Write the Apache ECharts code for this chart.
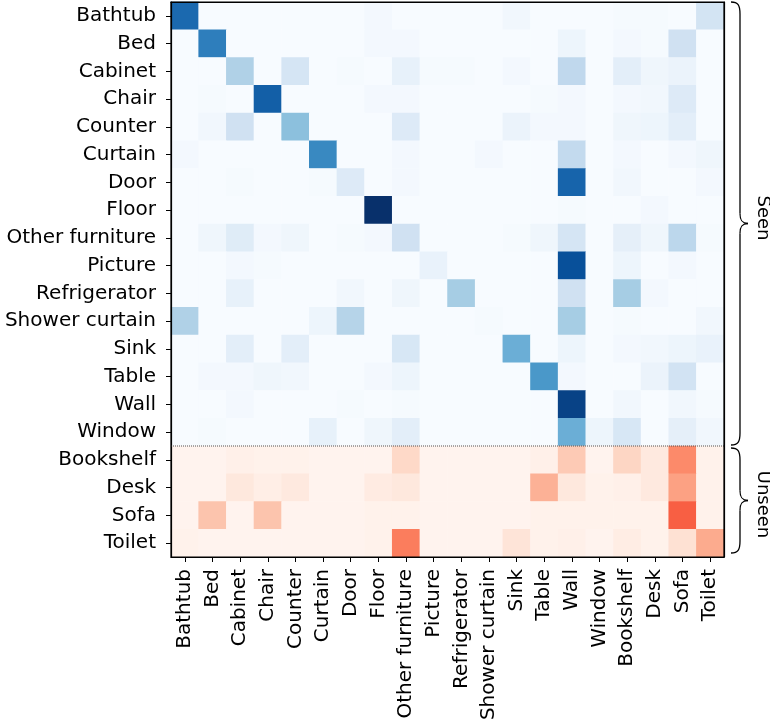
<!DOCTYPE html>
<html>
<head>
<meta charset="utf-8">
<script src="https://cdn.jsdelivr.net/npm/echarts@6/dist/echarts.min.js"></script>
<style>
  html, body { margin: 0; padding: 0; background: #fff; }
  #main { width: 770px; height: 726px; }
</style>
</head>
<body>
<div id="main"></div>
<script>
// class names, used for both axes
const classes = ['Bathtub', 'Bed', 'Cabinet', 'Chair', 'Counter', 'Curtain', 'Door', 'Floor',
  'Other furniture', 'Picture', 'Refrigerator', 'Shower curtain', 'Sink', 'Table', 'Wall',
  'Window', 'Bookshelf', 'Desk', 'Sofa', 'Toilet']

const seenRows = classes.slice(0, 16)
const unseenRows = classes.slice(16)

// row-normalised confusion, seen classes (Blues)
const seenMatrix = [
  [0.78, 0, 0, 0, 0, 0, 0, 0.02, 0, 0, 0, 0, 0.03, 0, 0, 0, 0.01, 0.01, 0, 0.18],
  [0, 0.70, 0, 0, 0, 0, 0, 0.02, 0.02, 0, 0, 0, 0, 0, 0.05, 0, 0.02, 0.01, 0.20, 0],
  [0, 0, 0.32, 0, 0.17, 0, 0.01, 0, 0.08, 0.01, 0.01, 0, 0.02, 0, 0.27, 0, 0.10, 0.04, 0.06, 0],
  [0, 0.01, 0, 0.82, 0, 0, 0, 0.02, 0.02, 0, 0, 0, 0, 0.01, 0.02, 0, 0.02, 0.03, 0.13, 0],
  [0, 0.03, 0.20, 0, 0.42, 0, 0, 0, 0.13, 0, 0, 0, 0.06, 0.02, 0.02, 0, 0.04, 0.05, 0.10, 0],
  [0.02, 0, 0, 0, 0, 0.66, 0, 0, 0.02, 0, 0, 0.02, 0, 0, 0.26, 0, 0.02, 0, 0.02, 0.04],
  [0, 0, 0.01, 0, 0, 0.01, 0.13, 0, 0.02, 0, 0, 0, 0, 0, 0.80, 0, 0.03, 0, 0, 0.02],
  [0, 0, 0, 0, 0, 0, 0, 1.00, 0, 0, 0, 0, 0, 0, 0.01, 0, 0, 0.02, 0, 0],
  [0, 0.04, 0.12, 0.02, 0.04, 0, 0.01, 0.02, 0.20, 0, 0, 0, 0.01, 0.04, 0.17, 0, 0.09, 0.04, 0.28, 0.01],
  [0, 0, 0.02, 0.01, 0, 0, 0, 0, 0, 0.07, 0, 0, 0, 0, 0.88, 0, 0.05, 0, 0.02, 0],
  [0, 0, 0.08, 0, 0, 0, 0.03, 0, 0.04, 0, 0.35, 0, 0, 0, 0.20, 0, 0.35, 0.02, 0, 0],
  [0.32, 0, 0, 0, 0, 0.05, 0.30, 0, 0, 0, 0, 0.01, 0, 0, 0.35, 0, 0.01, 0, 0, 0.03],
  [0, 0, 0.10, 0, 0.10, 0, 0, 0, 0.16, 0, 0, 0, 0.50, 0, 0.05, 0, 0.02, 0.03, 0.05, 0.07],
  [0, 0.02, 0.02, 0.04, 0.03, 0, 0, 0.02, 0.05, 0, 0, 0, 0, 0.60, 0.02, 0, 0, 0.06, 0.19, 0],
  [0, 0, 0.02, 0, 0, 0, 0.01, 0, 0.01, 0, 0, 0, 0, 0, 0.93, 0, 0.03, 0, 0.03, 0.01],
  [0, 0.01, 0, 0, 0, 0.08, 0, 0.04, 0.10, 0, 0, 0, 0, 0, 0.50, 0.05, 0.16, 0, 0.09, 0.03]
]

// unseen classes (Reds)
const unseenMatrix = [
  [0.01, 0.01, 0.03, 0.02, 0.02, 0.01, 0.01, 0.01, 0.15, 0.01, 0.01, 0.01, 0.01, 0.03, 0.20, 0.01, 0.16, 0.07, 0.40, 0.02],
  [0.01, 0.01, 0.08, 0.04, 0.07, 0.01, 0.01, 0.06, 0.08, 0.01, 0.01, 0.01, 0.01, 0.28, 0.08, 0.02, 0.03, 0.07, 0.33, 0.02],
  [0.01, 0.22, 0.01, 0.22, 0.01, 0.01, 0.01, 0.02, 0.02, 0.01, 0.01, 0.01, 0.01, 0.02, 0.02, 0.02, 0.02, 0.02, 0.53, 0.02],
  [0.02, 0.01, 0.01, 0.01, 0.01, 0.01, 0.01, 0.02, 0.44, 0.01, 0.01, 0.01, 0.10, 0.02, 0.03, 0.01, 0.05, 0.02, 0.12, 0.30]
]

const blues = ['#f7fbff', '#deebf7', '#c6dbef', '#9ecae1', '#6baed6', '#4292c6', '#2171b5', '#08519c', '#08306b']
const reds = ['#fff5f0', '#fee0d2', '#fcbba1', '#fc9272', '#fb6a4a', '#ef3b2c', '#cb181d', '#a50f15', '#67000d']

function toCells(matrix, rowNames) {
  const out = []
  matrix.forEach((row, r) => {
    row.forEach((v, c) => out.push([classes[c], rowNames[r], v]))
  })
  return out
}

const font = 'DejaVu Sans'
const chart = echarts.init(document.getElementById('main'))

const axisBase = {
  type: 'category',
  data: classes,
  z: 10,
  axisLine: { show: true, lineStyle: { color: '#000', width: 1.2 } },
  splitLine: { show: false }
}

chart.setOption({
  animation: false,
  grid: { left: 171, top: 2, width: 553, height: 555 },
  xAxis: [
    Object.assign({}, axisBase, {
      position: 'bottom',
      axisTick: { show: true, alignWithLabel: true, length: 5, lineStyle: { color: '#000' } },
      axisLabel: { rotate: 90, interval: 0, margin: 12, color: '#000', fontSize: 20, fontFamily: font }
    }),
    Object.assign({}, axisBase, {
      position: 'top',
      axisTick: { show: false },
      axisLabel: { show: false }
    })
  ],
  yAxis: [
    Object.assign({}, axisBase, {
      inverse: true,
      position: 'left',
      axisTick: { show: true, alignWithLabel: true, length: 5, lineStyle: { color: '#000' } },
      axisLabel: { interval: 0, margin: 15, color: '#000', fontSize: 20, fontFamily: font }
    }),
    Object.assign({}, axisBase, {
      inverse: true,
      position: 'right',
      axisTick: { show: false },
      axisLabel: { show: false }
    })
  ],
  visualMap: [
    { show: false, seriesIndex: 0, dimension: 2, min: 0, max: 1, inRange: { color: blues } },
    { show: false, seriesIndex: 1, dimension: 2, min: 0, max: 1, inRange: { color: reds } }
  ],
  series: [
    { type: 'heatmap', name: 'seen', data: toCells(seenMatrix, seenRows), itemStyle: { borderWidth: 0 } },
    { type: 'heatmap', name: 'unseen', data: toCells(unseenMatrix, unseenRows), itemStyle: { borderWidth: 0 } }
  ]
})

// separator, frame and braces, placed from the axis scale
const yPix = name => chart.convertToPixel({ yAxisIndex: 0 }, name)
const xPix = name => chart.convertToPixel({ xAxisIndex: 0 }, name)
const step = yPix('Bed') - yPix('Bathtub')
const colStep = xPix('Bed') - xPix('Bathtub')
const yTop = yPix('Bathtub') - step / 2
const ySplit = (yPix('Window') + yPix('Bookshelf')) / 2
const yBottom = yPix('Toilet') + step / 2
const xLeft = xPix('Bathtub') - colStep / 2
const xRight = xPix('Toilet') + colStep / 2

const braceStyle = { stroke: '#000', lineWidth: 1.3, fill: null }

function curve(x1, y1, cx1, cy1, cx2, cy2, x2, y2) {
  return {
    type: 'bezierCurve', z: 100,
    shape: { x1: x1, y1: y1, cpx1: cx1, cpy1: cy1, cpx2: cx2, cpy2: cy2, x2: x2, y2: y2 },
    style: braceStyle
  }
}

function brace(x0, y0, y1) {
  const xs = x0 + 9
  const tip = x0 + 17
  const ym = (y0 + y1) / 2
  return [
    curve(x0, y0, x0 + 7, y0, xs, y0 + 3, xs, y0 + 12),
    { type: 'line', z: 100, shape: { x1: xs, y1: y0 + 12, x2: xs, y2: ym - 10 }, style: braceStyle },
    curve(xs, ym - 10, xs, ym - 3, xs + 2, ym, tip, ym),
    curve(tip, ym, xs + 2, ym, xs, ym + 3, xs, ym + 10),
    { type: 'line', z: 100, shape: { x1: xs, y1: ym + 10, x2: xs, y2: y1 - 12 }, style: braceStyle },
    curve(xs, y1 - 12, xs, y1 - 3, x0 + 7, y1, x0, y1)
  ]
}

const bx = xRight + 7
chart.setOption({
  graphic: [
    {
      type: 'line', z: 100,
      shape: { x1: xLeft, y1: ySplit, x2: xRight, y2: ySplit },
      style: { stroke: '#555', lineWidth: 1, lineDash: [1, 1] }
    },
    {
      type: 'rect', z: 101,
      shape: { x: xLeft, y: yTop, width: xRight - xLeft, height: yBottom - yTop },
      style: { stroke: '#000', lineWidth: 1.2, fill: null }
    },
    ...brace(bx, yTop, ySplit - 1),
    ...brace(bx, ySplit + 2, yBottom - 4),
    {
      type: 'text', z: 100, x: bx + 32, y: (yTop + ySplit) / 2 - 6, rotation: -Math.PI / 2,
      style: { text: 'Seen', fontSize: 18, fontFamily: font, fill: '#000', align: 'center', verticalAlign: 'middle' }
    },
    {
      type: 'text', z: 100, x: bx + 32, y: (ySplit + yBottom) / 2 + 3, rotation: -Math.PI / 2,
      style: { text: 'Unseen', fontSize: 18, fontFamily: font, fill: '#000', align: 'center', verticalAlign: 'middle' }
    }
  ]
})
</script>
</body>
</html>
